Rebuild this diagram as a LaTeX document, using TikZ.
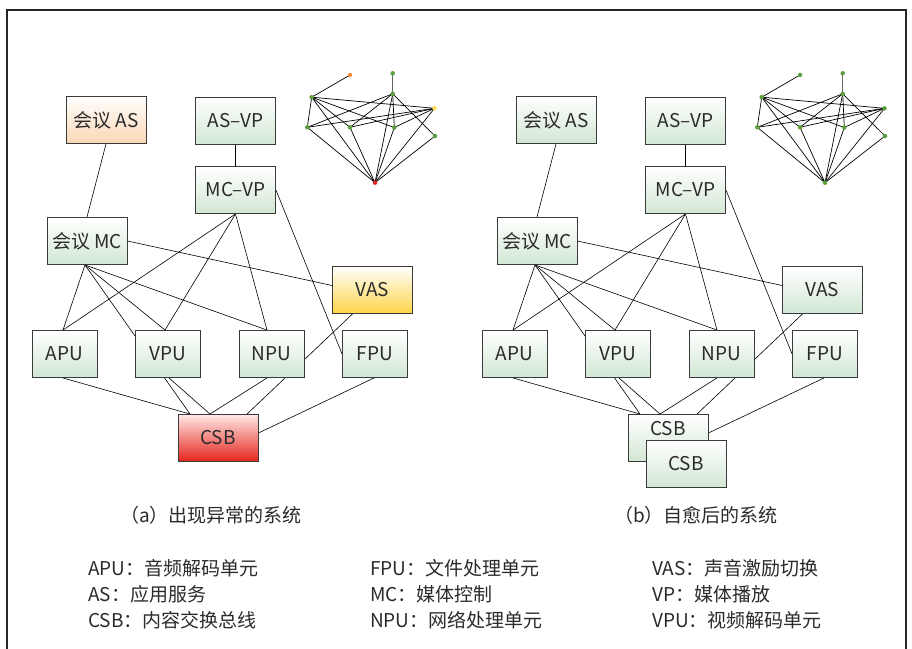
\documentclass[tikz,border=0pt]{standalone}
\usepackage{fontspec}
\setmainfont{Noto Sans CJK SC}
\usetikzlibrary{calc}
\pgfdeclarelayer{bg}
\pgfdeclarelayer{edges}
\pgfsetlayers{bg,edges,main}
\definecolor{txt}{HTML}{2B2B2B}
\definecolor{bord}{HTML}{3A3A3A}
\definecolor{gbot}{HTML}{D2E7D4}
\definecolor{obot}{HTML}{FAD7B4}
\definecolor{ybot}{HTML}{FFD54A}
\definecolor{rtop}{HTML}{FFE9E6}
\definecolor{rbot}{HTML}{E5241C}
\definecolor{gdot}{HTML}{5E9E3C}
\definecolor{odot}{HTML}{F08A3C}
\definecolor{ydot}{HTML}{FFDD55}
\definecolor{rdot}{HTML}{E02424}
\tikzset{
  box/.style={draw=bord, line width=0.9pt, minimum height=47pt, inner sep=0pt,
    text=txt, font=\fontsize{19}{22}\selectfont, top color=white, bottom color=gbot},
  wide/.style={box, minimum width=80pt},
  narrow/.style={box, minimum width=65pt},
  orangebox/.style={top color=white, bottom color=obot},
  yellowbox/.style={top color=white, bottom color=ybot},
  redbox/.style={top color=rtop, bottom color=rbot},
  link/.style={draw=black, line width=0.6pt},
  gv/.style={circle, inner sep=0pt, minimum size=4.5pt, fill=gdot},
  gedge/.style={draw=black, line width=0.7pt},
  captxt/.style={text=txt, inner sep=0pt, font=\fontsize{19}{22}\selectfont},
  legtxt/.style={text=txt, inner sep=0pt, font=\fontsize{19}{22}\selectfont, anchor=west},
}
\begin{document}
\begin{tikzpicture}[x=1pt, y=-1pt]
\useasboundingbox (0,0) rectangle (912,648);
\begin{pgfonlayer}{bg}
\fill[white] (0,0) rectangle (912,648);
\end{pgfonlayer}
\draw[line width=1.3pt, draw=black!85] (7,680) -- (7,10) -- (906,10) -- (906,680);

% ---------- system diagrams ----------
\foreach \s/\p in {0/a, 450/b} {
  \begin{scope}[xshift=\s pt]
    \ifnum\s=0
      \node[wide, orangebox] (as\p) at (106,120) {会议 AS};
      \node[wide, yellowbox] (vas\p) at (372.5,289.5) {VAS};
    \else
      \node[wide] (as\p) at (106,120) {会议 AS};
      \node[wide] (vas\p) at (372.5,289.5) {VAS};
    \fi
    \node[wide] (asvp\p) at (235.5,120.5) {AS–VP};
    \node[wide] (mcvp\p) at (235.5,190) {MC–VP};
    \node[wide] (mc\p) at (87,241) {会议 MC};
    \node[narrow] (apu\p) at (64.5,354) {APU};
    \node[narrow] (vpu\p) at (167.5,354) {VPU};
    \node[narrow] (npu\p) at (271.5,354) {NPU};
    \node[narrow] (fpu\p) at (375,354) {FPU};
  \end{scope}
}
\node[wide, redbox] (csba) at (218,438) {CSB};
\node[wide] (csbb) at (668,438) {\raisebox{2.5pt}[0pt][0pt]{CSB}};
\node[wide] (csbc) at (686,464) {CSB};

\begin{pgfonlayer}{edges}
\foreach \p in {a,b} {
  \path[link] (as\p.south) -- (mc\p.north);
  \path[link] (asvp\p.south) -- (mcvp\p.north);
  \path[link] (mcvp\p.south) -- ([xshift=-1.5pt]apu\p.north);
  \path[link] (mcvp\p.south) -- ([xshift=-2.5pt]vpu\p.north);
  \path[link] (mcvp\p.south) -- ([xshift=-4.5pt]npu\p.north);
  \path[link] (mcvp\p.east) -- (fpu\p.west);
  \path[link] (mc\p.east) -- ([yshift=4pt]vas\p.west);
  \path[link] ([xshift=-2pt]mc\p.south) -- ([xshift=-1.5pt]apu\p.north);
  \path[link] ([xshift=-2pt]mc\p.south) -- ([xshift=-2.5pt]vpu\p.north);
  \path[link] ([xshift=-2pt]mc\p.south) -- ([xshift=-4.5pt]npu\p.north);
  \path[link] ([xshift=-2pt]mc\p.south) -- ([xshift=-28pt]csb\p.north);
  \path[link] ([xshift=-1.5pt]apu\p.south) -- ([xshift=-28pt]csb\p.north);
  \path[link] ([xshift=1.5pt]vpu\p.south) -- ([xshift=-8pt]csb\p.north);
  \path[link] ([xshift=-4.5pt]npu\p.south) -- ([xshift=-8pt]csb\p.north);
  \path[link] ([xshift=-19.5pt]vas\p.south) -- ([xshift=29pt]csb\p.north);
  \path[link] ([xshift=-1pt]fpu\p.south) -- ([yshift=5pt]csb\p.east);
}
\end{pgfonlayer}

% ---------- small graphs ----------
\foreach \s/\p/\ctop/\cr/\cy in {0/a/odot/rdot/ydot, 450/b/gdot/gdot/gdot} {
  \begin{scope}[xshift=\s pt]
    \node[gv, fill=\ctop] (g\p o) at (350,75) {};
    \node[gv] (g\p t) at (392.7,73.3) {};
    \node[gv] (g\p 1) at (311.7,97.2) {};
    \node[gv] (g\p 2) at (392.7,93.8) {};
    \node[gv, fill=\cy] (g\p y) at (434.5,108.3) {};
    \node[gv] (g\p 3) at (307.3,127.3) {};
    \node[gv] (g\p 4) at (350,127.3) {};
    \node[gv] (g\p 5) at (394.3,127.5) {};
    \node[gv] (g\p 6) at (435,136) {};
    \node[gv, fill=\cr] (g\p r) at (375,182.7) {};
  \end{scope}
  \begin{pgfonlayer}{edges}
    \path[gedge] (g\p 1.center) -- (g\p o.center);
    \path[gedge, draw=black!60, line width=1.1pt] (g\p t.center) -- (g\p 2.center);
    \path[gedge] (g\p 1.center) -- (g\p y.center);
    \path[gedge] (g\p 1.center) -- (g\p 3.center);
    \path[gedge] (g\p 1.center) -- (g\p r.center);
    \path[gedge] (g\p 1.center) -- (g\p 5.center);
    \path[gedge] (g\p 1.center) -- (g\p 4.center);
    \path[gedge] (g\p 2.center) -- (g\p 3.center);
    \path[gedge] (g\p 2.center) -- (g\p 4.center);
    \path[gedge] (g\p 2.center) -- (g\p 5.center);
    \path[gedge] (g\p 2.center) -- (g\p r.center);
    \path[gedge] (g\p 2.center) -- (g\p 6.center);
    \path[gedge] (g\p y.center) -- (g\p 3.center);
    \path[gedge] (g\p y.center) -- (g\p 4.center);
    \path[gedge] (g\p y.center) -- (g\p 5.center);
    \path[gedge] (g\p y.center) -- (g\p r.center);
    \path[gedge] (g\p 3.center) -- (g\p r.center);
    \path[gedge] (g\p 4.center) -- (g\p r.center);
    \path[gedge] (g\p 5.center) -- (g\p r.center);
    \path[gedge] (g\p 6.center) -- (g\p r.center);
  \end{pgfonlayer}
}

% ---------- captions ----------
\node[captxt] (capa) at (211,515) {（a）出现异常的系统};
\node[captxt] (capb) at (696,515) {（b）自愈后的系统};

% ---------- legend ----------
\node[legtxt] (l1) at (88,568) {APU：音频解码单元};
\node[legtxt] (l2) at (88,594) {AS：应用服务};
\node[legtxt] (l3) at (88,620) {CSB：内容交换总线};
\node[legtxt] (l4) at (370,568) {FPU：文件处理单元};
\node[legtxt] (l5) at (370,594) {MC：媒体控制};
\node[legtxt] (l6) at (370,620) {NPU：网络处理单元};
\node[legtxt] (l7) at (652,568) {VAS：声音激励切换};
\node[legtxt] (l8) at (652,594) {VP：媒体播放};
\node[legtxt] (l9) at (652,620) {VPU：视频解码单元};
\end{tikzpicture}
\end{document}
